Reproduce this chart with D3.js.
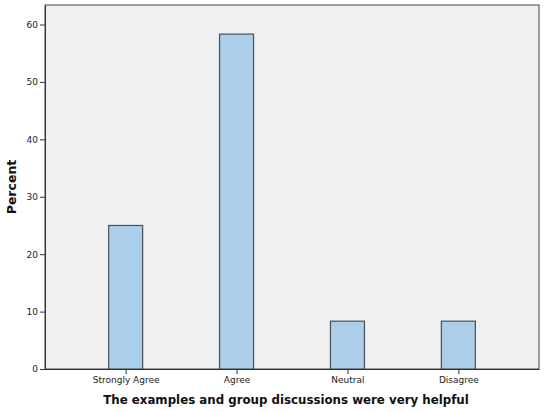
<!DOCTYPE html>
<html>
<head>
<meta charset="utf-8">
<script src="https://d3js.org/d3.v7.min.js"></script>
<style>
  body { margin: 0; background: #fff; }
  text { font-family: "DejaVu Sans", sans-serif; }
</style>
</head>
<body>
<div id="chart"></div>
<script>
const svgWidth = 550;
const svgHeight = 412;

const margin = { top: 5, right: 11, bottom: 43, left: 45 };
const width = svgWidth - margin.left - margin.right;
const height = svgHeight - margin.top - margin.bottom;

// data: 12 responses -> 3, 7, 1, 1
const categories = ["Strongly Agree", "Agree", "Neutral", "Disagree"];
const percents = [25.0, 58.33, 8.33, 8.33];
const yTicks = [0, 10, 20, 30, 40, 50, 60];

const svg = d3.select("#chart")
  .append("svg")
  .attr("width", svgWidth)
  .attr("height", svgHeight);

const chartGroup = svg.append("g")
  .attr("transform", `translate(${margin.left}, ${margin.top})`);

// x positions of categories
const xScale = d3.scalePoint()
  .domain(categories)
  .range([0, width])
  .padding(0.727);

const yScale = d3.scaleLinear()
  .domain([0, 63.4])
  .range([height, 0]);

const barWidth = 34;

// plot background
chartGroup.append("rect")
  .attr("x", 0)
  .attr("y", 0)
  .attr("width", width)
  .attr("height", height)
  .attr("fill", "#f0f0f0")
  .attr("stroke", "#444")
  .attr("stroke-width", 1);

// bars
chartGroup.selectAll(".bar")
  .data(percents)
  .enter()
  .append("rect")
  .attr("class", "bar")
  .attr("x", (d, i) => xScale(categories[i]) - barWidth / 2)
  .attr("y", d => yScale(d))
  .attr("width", barWidth)
  .attr("height", d => height - yScale(d))
  .attr("fill", "#abcfeb")
  .attr("stroke", "#4b4f57")
  .attr("stroke-width", 1.2);

// y axis
const leftAxis = d3.axisLeft(yScale)
  .tickValues(yTicks)
  .tickSize(5)
  .tickSizeOuter(0)
  .tickPadding(2)
  .tickFormat(d3.format("d"));

const yAxis = chartGroup.append("g").call(leftAxis);
yAxis.select(".domain").attr("stroke", "#333");
yAxis.selectAll(".tick line").attr("stroke", "#333");
yAxis.selectAll(".tick text")
  .attr("fill", "#222")
  .style("font-size", "9px");

// x axis
const bottomAxis = d3.axisBottom(xScale)
  .tickSize(5)
  .tickSizeOuter(0)
  .tickPadding(3);

const xAxis = chartGroup.append("g")
  .attr("transform", `translate(0, ${height})`)
  .call(bottomAxis);
xAxis.select(".domain").attr("stroke", "#333");
xAxis.selectAll(".tick line").attr("stroke", "#333");
xAxis.selectAll(".tick text")
  .attr("fill", "#222")
  .style("font-size", "9px");

// axis titles
chartGroup.append("text")
  .attr("x", width / 2 - 6)
  .attr("y", height + 35)
  .attr("text-anchor", "middle")
  .style("font-size", "11.8px")
  .style("font-weight", "bold")
  .attr("fill", "#111")
  .text("The examples and group discussions were very helpful");

chartGroup.append("text")
  .attr("transform", "rotate(-90)")
  .attr("x", -height / 2)
  .attr("y", -29)
  .attr("text-anchor", "middle")
  .style("font-size", "12.5px")
  .style("font-weight", "bold")
  .attr("fill", "#111")
  .text("Percent");
</script>
</body>
</html>
